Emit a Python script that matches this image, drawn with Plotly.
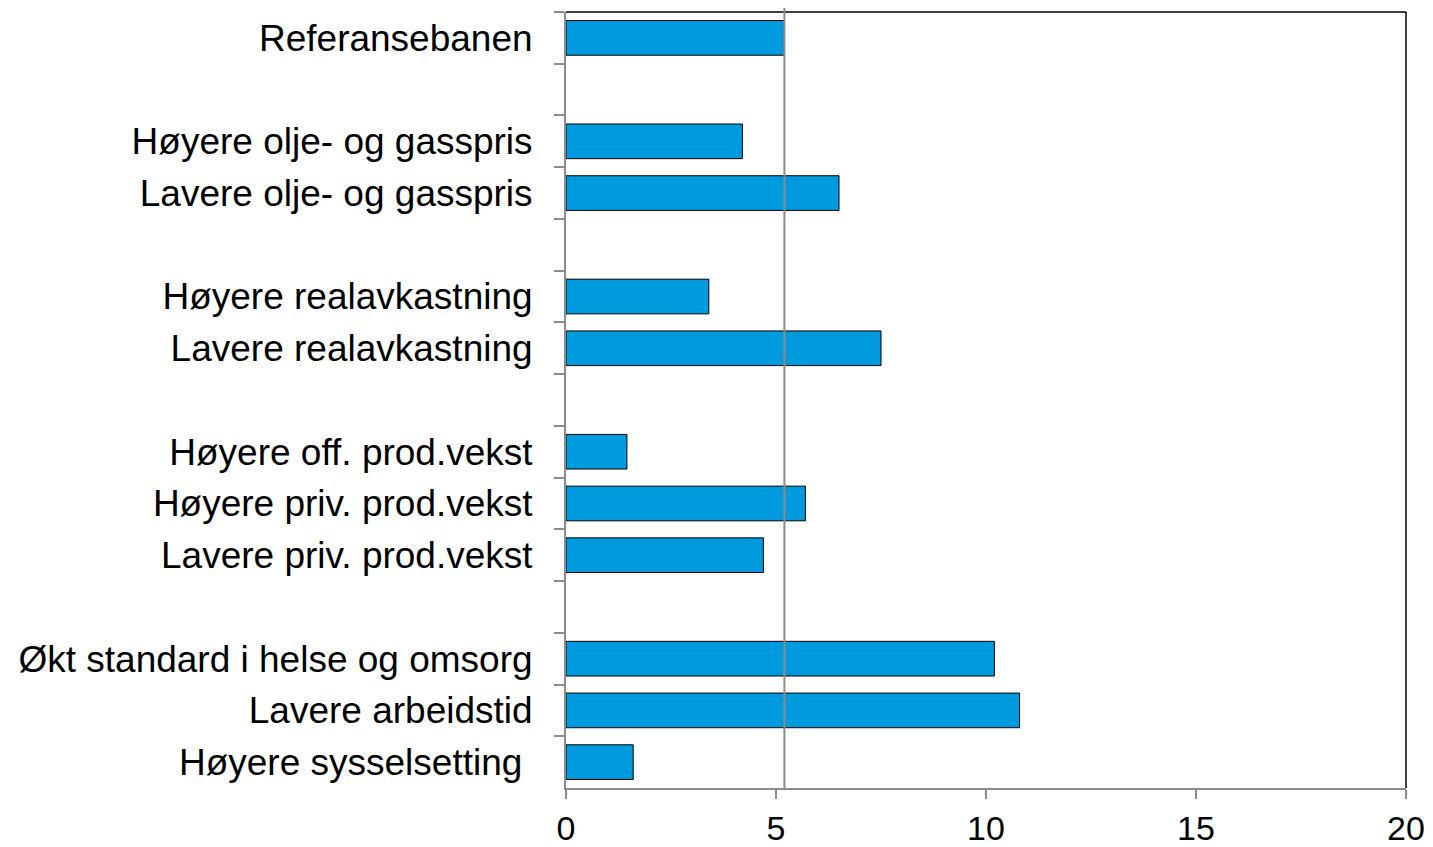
import plotly.graph_objects as go

categories = [
    "Referansebanen",
    " ",
    "Høyere olje- og gasspris",
    "Lavere olje- og gasspris",
    "  ",
    "Høyere realavkastning",
    "Lavere realavkastning",
    "   ",
    "Høyere off. prod.vekst",
    "Høyere priv. prod.vekst",
    "Lavere priv. prod.vekst",
    "    ",
    "Økt standard i helse og omsorg",
    "Lavere arbeidstid",
    "Høyere sysselsetting ",
]
values = [5.2, None, 4.2, 6.5, None, 3.4, 7.5, None, 1.45, 5.7, 4.7, None, 10.2, 10.8, 1.6]
reference_value = 5.2
x_ticks = [0, 5, 10, 15, 20]

FONT = "Liberation Sans, Arial, sans-serif"
GRAY = "#8c8c8c"

fig = go.Figure()
fig.add_trace(go.Bar(
    x=values, y=categories, orientation="h",
    marker=dict(color="#009ADE", line=dict(color="#000000", width=1)),
    width=0.67, showlegend=False, hoverinfo="x+y",
))

# page body has an 8px margin; size and margins compensate so the plot lands where the reference is
fig.update_layout(
    width=1425, height=839,
    margin=dict(l=558, r=27, t=4, b=59),
    plot_bgcolor="white", paper_bgcolor="white",
    font=dict(family=FONT, size=37, color="#000000"),
    bargap=0.33,
)
fig.update_xaxes(
    range=[0, 20], tickvals=x_ticks, ticks="outside", ticklen=9, tickcolor=GRAY,
    tickwidth=2, showline=True, linecolor=GRAY, linewidth=2, showgrid=False,
    zeroline=False, ticklabelstandoff=0, tickfont=dict(size=34), automargin=False,
)
fig.update_yaxes(
    type="category", categoryorder="array", categoryarray=categories,
    autorange="reversed", ticks="outside", tickson="boundaries", ticklen=10,
    tickcolor=GRAY, tickwidth=2, showline=True, linecolor=GRAY, linewidth=2,
    showgrid=False, zeroline=False, ticklabelstandoff=24, automargin=False,
)
# top and right frame lines
fig.add_shape(type="line", xref="paper", yref="paper", x0=0, x1=1, y0=1, y1=1,
              line=dict(color="#000000", width=1.5))
fig.add_shape(type="line", xref="paper", yref="paper", x0=1, x1=1, y0=0, y1=1,
              line=dict(color="#000000", width=1.5))
# reference line
fig.add_shape(type="line", xref="x", yref="paper", x0=reference_value, x1=reference_value,
              y0=-0.003, y1=1.005, layer="above",
              line=dict(color="#8e8a85", width=2))

fig.write_html("out.html")
